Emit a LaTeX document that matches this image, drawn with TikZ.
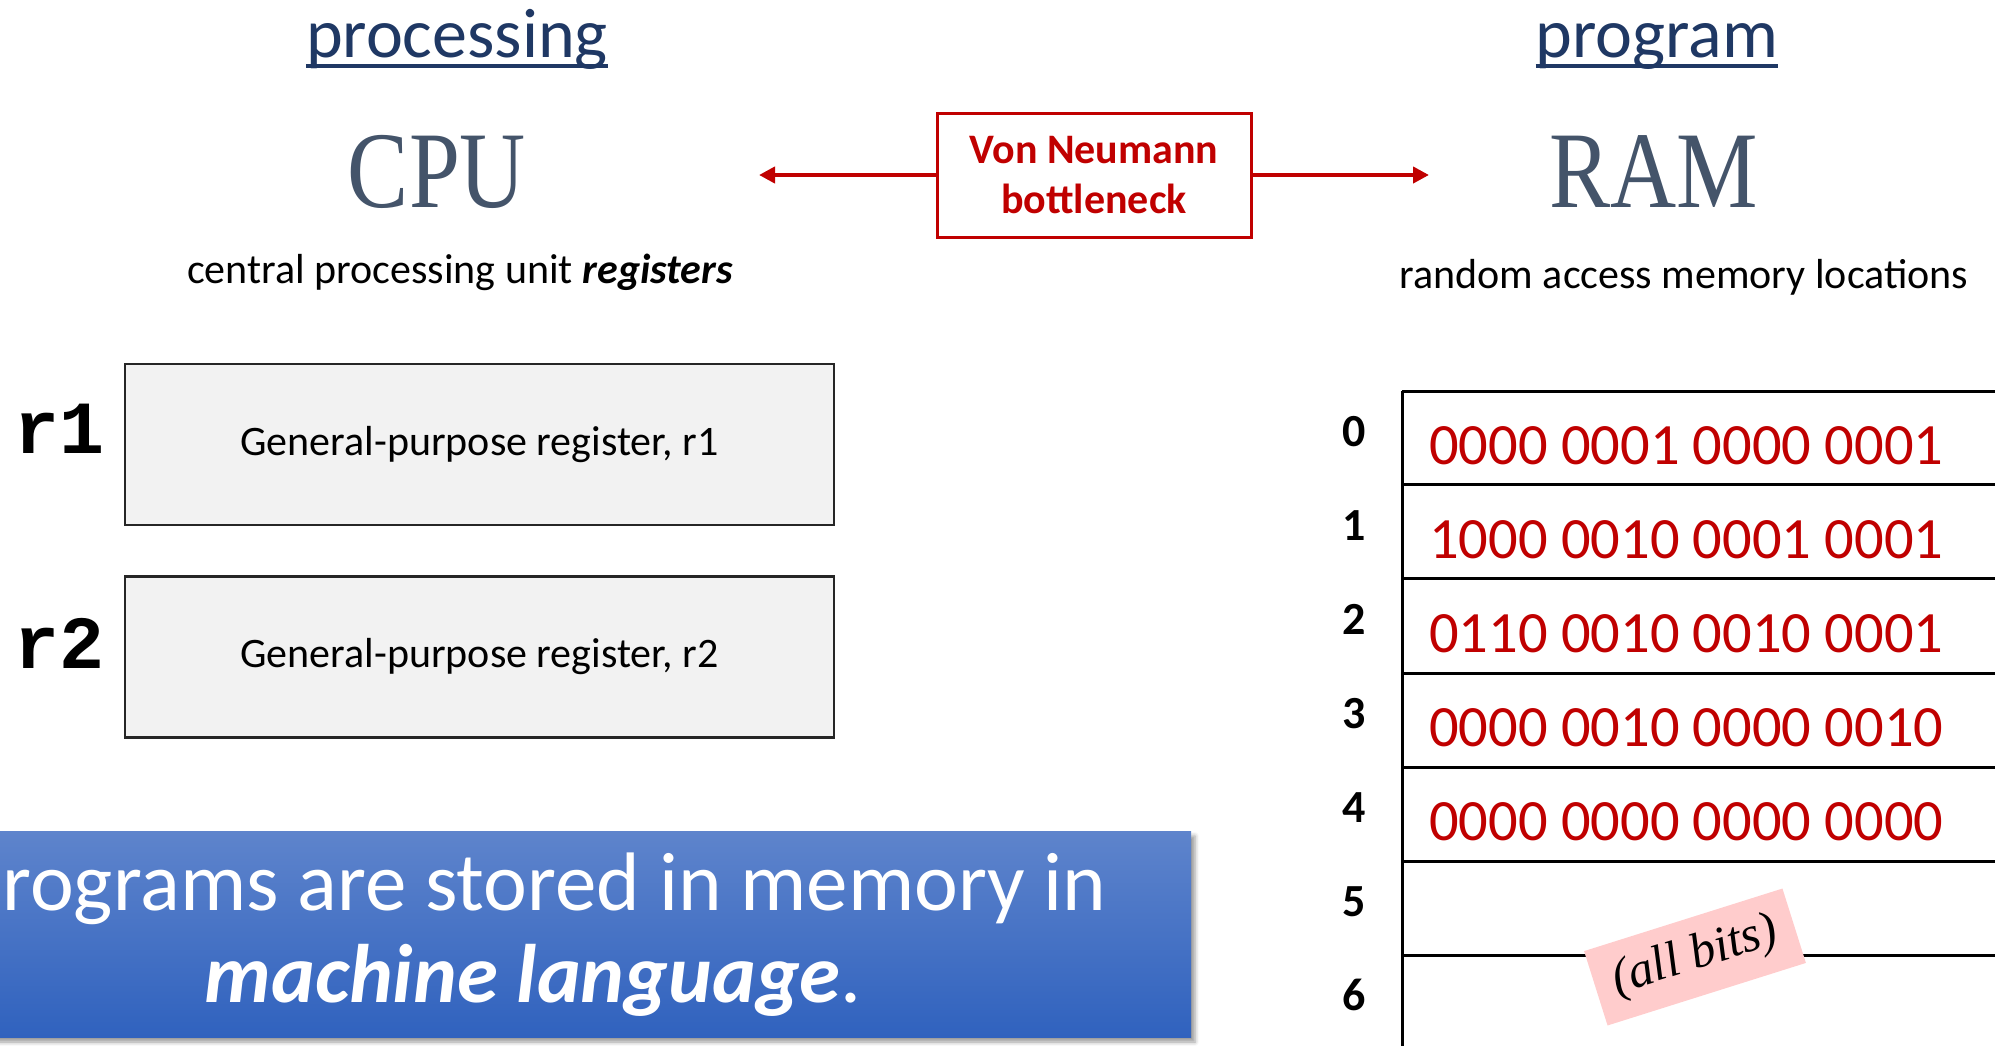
\documentclass[tikz,border=0pt]{standalone}
\usepackage{fontspec}
\setmainfont{Carlito}
\newfontfamily\cambria[FakeStretch=0.84]{Liberation Serif}
\newfontfamily\serifit{Liberation Serif}
\newfontfamily\cour{Liberation Mono}
\usetikzlibrary{arrows.meta,shadows.blur}
\definecolor{navy}{HTML}{1F3864}
\definecolor{slate}{HTML}{44546A}
\definecolor{vnred}{HTML}{C00000}
\definecolor{pinkbg}{HTML}{FFCCCC}
\definecolor{regfill}{HTML}{F2F2F2}
\definecolor{bantop}{HTML}{5E84CC}
\definecolor{banbot}{HTML}{3062BE}
\newcommand{\fs}[1]{\fontsize{#1}{#1}\selectfont}
\tikzset{
  txt/.style={inner sep=0pt, anchor=base},
  heading/.style={txt, text=navy, font=\fs{70}},
  bigname/.style={txt, text=slate, font=\cambria\fs{109}},
  desc/.style={txt, font=\fs{42}},
  regbox/.style={draw=black!85, line width=2.5pt, fill=regfill, minimum width=709pt, minimum height=161pt, inner sep=0pt, font=\fs{42}},
  reglabel/.style={txt, font=\cour\bfseries\fs{75}},
  bits/.style={txt, anchor=base west, text=vnred, font=\fs{58.5}},
  addr/.style={txt, font=\bfseries\fs{46}},
  tabline/.style={line width=3pt, black},
  vnarrow/.style={vnred, line width=4.5pt, -{Triangle[length=16pt,width=16pt]}},
  bantext/.style={txt, text=white, font=\fs{83}},
}
\begin{document}
\begin{tikzpicture}[x=1pt,y=-1pt]
\useasboundingbox (0,0) rectangle (1995,1045);

% headings
\node[heading] (proc) at (457,57) {processing};
\draw[navy, line width=4pt] ([yshift=-9pt]proc.base west) -- ([yshift=-9pt]proc.base east);
\node[heading] (prog) at (1657,57) {program};
\draw[navy, line width=4pt] ([yshift=-9pt]prog.base west) -- ([yshift=-9pt]prog.base east);

\node[bigname] (cpu) at (437,207) {CPU};
\node[bigname] (ram) at (1654,207) {RAM};

\node[desc] (cpudesc) at (460,283) {central processing unit \textbf{\textit{registers}}};
\node[desc] (ramdesc) at (1684,288) {random access memory locations};

% Von Neumann bottleneck
\node[draw=vnred, line width=3pt, minimum width=314pt, minimum height=124pt, inner sep=0pt,
      align=center, text=vnred, font=\bfseries\fontsize{42}{50}\selectfont] (vn) at (1094,175)
      {Von Neumann\\bottleneck};
\coordinate (la) at (759,175);
\coordinate (ra) at (1429,175);
\draw[vnarrow] (vn.west) -- (la);
\draw[vnarrow] (vn.east) -- (ra);

% registers
\node[regbox] (r1box) at (479.5,444.5) {General-purpose register, r1};
\node[regbox] (r2box) at (479.5,657) {General-purpose register, r2};
\node[reglabel] (r1) at (60,453) {r1};
\node[reglabel] (r2) at (60,668) {r2};

% RAM table
\draw[tabline] (1402,391) -- (1402,1060);
\foreach \yy in {391,484,578,673,767,861,955} {
  \draw[tabline] (1402,\yy) -- (2010,\yy);
}
\node[bits] (m0) at (1429,464) {0000 0001 0000 0001};
\node[bits] (m1) at (1429,558) {1000 0010 0001 0001};
\node[bits] (m2) at (1429,652) {0110 0010 0010 0001};
\node[bits] (m3) at (1429,746) {0000 0010 0000 0010};
\node[bits] (m4) at (1429,840) {0000 0000 0000 0000};
\node[addr] (a0) at (1354,446) {0};
\node[addr] (a1) at (1354,540) {1};
\node[addr] (a2) at (1354,634) {2};
\node[addr] (a3) at (1354,728) {3};
\node[addr] (a4) at (1354,822) {4};
\node[addr] (a5) at (1354,916) {5};
\node[addr] (a6) at (1354,1010) {6};

\node[fill=pinkbg, rotate=17.5, minimum width=208pt, minimum height=78pt, inner sep=0pt,
      font=\serifit\itshape\fs{50}] (allbits) at (1695,957) {(all bits)};

% banner
\node[minimum width=1316pt, minimum height=206pt, inner sep=0pt, top color=bantop, bottom color=banbot,
      blur shadow={shadow xshift=4pt, shadow yshift=-5pt, shadow blur radius=4pt, shadow opacity=40}] (banner) at (533,934) {};
\node[bantext] (ban1) at (533,910) {Programs are stored in memory in};
\node[bantext] (ban2) at (533,1002) {\textbf{\textit{machine language}}.};
\end{tikzpicture}
\end{document}
